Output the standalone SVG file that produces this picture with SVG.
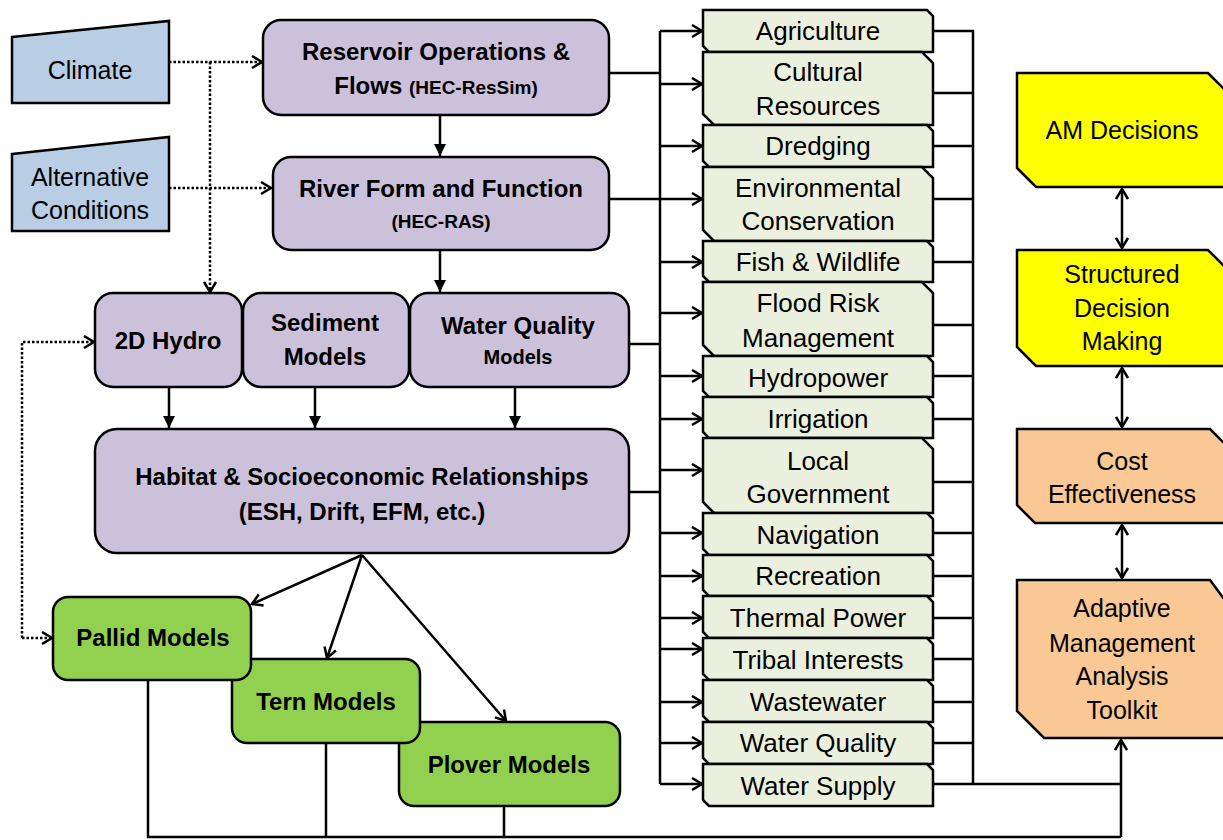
<svg xmlns="http://www.w3.org/2000/svg" width="1223" height="840" viewBox="0 0 1223 840">
<style>
.t{font-family:"Liberation Sans",Arial,sans-serif;font-size:25px;fill:#000;text-anchor:middle}
.l{font-size:26px}
.b{font-family:"Liberation Sans",Arial,sans-serif;font-size:24px;font-weight:bold;fill:#000;text-anchor:middle}
.s{font-size:19px}
.purple{fill:#CCC1DA;stroke:#000;stroke-width:2.5}
.green{fill:#92D050;stroke:#000;stroke-width:2.5}
.blue{fill:#B9CDE5;stroke:#000;stroke-width:2.5}
.list{fill:#EBF0DE;stroke:#000;stroke-width:2.5}
.yellow{fill:#FFFF00;stroke:#000;stroke-width:2.5}
.peach{fill:#FAC894;stroke:#000;stroke-width:2.5}
.c{fill:none;stroke:#000;stroke-width:2.5}
.dot{fill:none;stroke:#000;stroke-width:2.5;stroke-dasharray:2.5 2}
</style>
<defs>
<marker id="open" markerUnits="userSpaceOnUse" markerWidth="14" markerHeight="15" viewBox="0 0 14 15" refX="12" refY="7.5" orient="auto-start-reverse">
<path d="M2,1.5 L12,7.5 L2,13.5" fill="none" stroke="#000" stroke-width="2.5"/>
</marker>
<marker id="tri" markerUnits="userSpaceOnUse" markerWidth="12" markerHeight="14" viewBox="0 0 12 14" refX="12" refY="7" orient="auto">
<path d="M0,1 L12,7 L0,13 Z" fill="#000"/>
</marker>
</defs>

<g id="connectors">
<path class="dot" d="M169,62 H262" marker-end="url(#open)"/>
<path class="dot" d="M210,62 V292" marker-end="url(#open)"/>
<path class="dot" d="M169,188 H271" marker-end="url(#open)"/>
<path class="dot" d="M22,638 V342 H94" marker-end="url(#open)"/>
<path class="dot" d="M22,638 H52" marker-end="url(#open)"/>
<path class="c" d="M440,115 V156" marker-end="url(#tri)"/>
<path class="c" d="M440,250 V292" marker-end="url(#tri)"/>
<path class="c" d="M169,387 V428" marker-end="url(#tri)"/>
<path class="c" d="M315,387 V428" marker-end="url(#tri)"/>
<path class="c" d="M515,387 V428" marker-end="url(#tri)"/>
<path class="c" d="M362,555 L252,604" marker-end="url(#open)"/>
<path class="c" d="M362,555 L327,658" marker-end="url(#open)"/>
<path class="c" d="M362,555 L506,721" marker-end="url(#open)"/>
<path class="c" d="M609,73 H660 M609,199 H660 M629,344 H660 M629,492 H660"/>
<path class="c" d="M660,31 V784"/>
<g marker-end="url(#open)">
<path class="c" d="M660,31 H702"/>
<path class="c" d="M660,84 H702"/>
<path class="c" d="M660,146 H702"/>
<path class="c" d="M660,199 H702"/>
<path class="c" d="M660,262 H702"/>
<path class="c" d="M660,313 H702"/>
<path class="c" d="M660,376 H702"/>
<path class="c" d="M660,419 H702"/>
<path class="c" d="M660,470 H702"/>
<path class="c" d="M660,533 H702"/>
<path class="c" d="M660,576 H702"/>
<path class="c" d="M660,618 H702"/>
<path class="c" d="M660,649 H702"/>
<path class="c" d="M660,702 H702"/>
<path class="c" d="M660,743 H702"/>
<path class="c" d="M660,784 H702"/>
</g>
<path class="c" d="M933,31 H973 V784 M933,93 H973 M933,146 H973 M933,199 H973 M933,262 H973 M933,325 H973 M933,376 H973 M933,419 H973 M933,482 H973 M933,533 H973 M933,576 H973 M933,618 H973 M933,659 H973 M933,702 H973 M933,743 H973 M933,784 H1121"/>
<path class="c" d="M148,680 V837 H1121 M326,743 V837 M504,806 V837"/>
<path class="c" d="M1121,837 V740" marker-end="url(#open)"/>
<path class="c" d="M1122,189 V248" marker-start="url(#open)" marker-end="url(#open)"/>
<path class="c" d="M1122,368 V427" marker-start="url(#open)" marker-end="url(#open)"/>
<path class="c" d="M1122,525 V578" marker-start="url(#open)" marker-end="url(#open)"/>
</g>

<g id="climate">
<polygon class="blue" points="12,37 169,21 169,103 12,103"/>
<text class="t" x="90" y="79">Climate</text>
</g>
<g id="alternative-conditions">
<polygon class="blue" points="12,154 169,137 169,231 12,231"/>
<text class="t" x="90" y="186">Alternative</text>
<text class="t" x="90" y="219">Conditions</text>
</g>

<g id="reservoir">
<rect class="purple" x="263" y="20" width="346" height="95" rx="18"/>
<text class="b" x="436" y="60">Reservoir Operations &amp;</text>
<text class="b" x="436" y="94">Flows <tspan class="s">(HEC-ResSim)</tspan></text>
</g>
<g id="river">
<rect class="purple" x="273" y="157" width="336" height="93" rx="18"/>
<text class="b" x="441" y="197">River Form and Function</text>
<text class="b s" x="441" y="228">(HEC-RAS)</text>
</g>
<g id="hydro2d">
<rect class="purple" x="95" y="293" width="147" height="94" rx="18"/>
<text class="b" x="168" y="349">2D Hydro</text>
</g>
<g id="sediment">
<rect class="purple" x="243" y="293" width="166" height="94" rx="18"/>
<text class="b" x="325" y="331">Sediment</text>
<text class="b" x="325" y="365">Models</text>
</g>
<g id="water-quality-models">
<rect class="purple" x="410" y="293" width="219" height="94" rx="18"/>
<text class="b" x="518" y="334">Water Quality</text>
<text class="b" x="518" y="364" style="font-size:20px">Models</text>
</g>
<g id="habitat">
<rect class="purple" x="95" y="429" width="534" height="124" rx="22"/>
<text class="b" x="362" y="485">Habitat &amp; Socioeconomic Relationships</text>
<text class="b" x="362" y="520">(ESH, Drift, EFM, etc.)</text>
</g>

<g id="plover">
<rect class="green" x="399" y="722" width="221" height="84" rx="15"/>
<text class="b" x="509" y="773">Plover Models</text>
</g>
<g id="tern">
<rect class="green" x="232" y="659" width="188" height="84" rx="15"/>
<text class="b" x="326" y="710">Tern Models</text>
</g>
<g id="pallid">
<rect class="green" x="53" y="597" width="198" height="83" rx="15"/>
<text class="b" x="153" y="646">Pallid Models</text>
</g>

<g id="agriculture"><path class="list" d="M703,10 H927 L933,16 V52 H709 L703,46 Z"/><text class="t l" x="818" y="40">Agriculture</text></g>
<g id="cultural-resources"><path class="list" d="M703,52 H922 L933,63 V125 H714 L703,114 Z"/><text class="t l" x="818" y="81">Cultural</text><text class="t l" x="818" y="115">Resources</text></g>
<g id="dredging"><path class="list" d="M703,125 H927 L933,131 V167 H709 L703,161 Z"/><text class="t l" x="818" y="155">Dredging</text></g>
<g id="environmental-conservation"><path class="list" d="M703,167 H922 L933,178 V241 H714 L703,230 Z"/><text class="t l" x="818" y="197">Environmental</text><text class="t l" x="818" y="230">Conservation</text></g>
<g id="fish-wildlife"><path class="list" d="M703,241 H927 L933,247 V282 H709 L703,276 Z"/><text class="t l" x="818" y="271">Fish &amp; Wildlife</text></g>
<g id="flood-risk"><path class="list" d="M703,282 H922 L933,293 V356 H714 L703,345 Z"/><text class="t l" x="818" y="312">Flood Risk</text><text class="t l" x="818" y="347">Management</text></g>
<g id="hydropower"><path class="list" d="M703,356 H927 L933,362 V397 H709 L703,391 Z"/><text class="t l" x="818" y="387">Hydropower</text></g>
<g id="irrigation"><path class="list" d="M703,397 H927 L933,403 V438 H709 L703,432 Z"/><text class="t l" x="818" y="428">Irrigation</text></g>
<g id="local-government"><path class="list" d="M703,438 H922 L933,449 V513 H714 L703,502 Z"/><text class="t l" x="818" y="470">Local</text><text class="t l" x="818" y="503">Government</text></g>
<g id="navigation"><path class="list" d="M703,513 H927 L933,519 V555 H709 L703,549 Z"/><text class="t l" x="818" y="544">Navigation</text></g>
<g id="recreation"><path class="list" d="M703,555 H927 L933,561 V596 H709 L703,590 Z"/><text class="t l" x="818" y="585">Recreation</text></g>
<g id="thermal-power"><path class="list" d="M703,596 H927 L933,602 V638 H709 L703,632 Z"/><text class="t l" x="818" y="627">Thermal Power</text></g>
<g id="tribal-interests"><path class="list" d="M703,638 H927 L933,644 V680 H709 L703,674 Z"/><text class="t l" x="818" y="669">Tribal Interests</text></g>
<g id="wastewater"><path class="list" d="M703,680 H927 L933,686 V722 H709 L703,716 Z"/><text class="t l" x="818" y="711">Wastewater</text></g>
<g id="water-quality"><path class="list" d="M703,722 H927 L933,728 V764 H709 L703,758 Z"/><text class="t l" x="818" y="752">Water Quality</text></g>
<g id="water-supply"><path class="list" d="M703,764 H927 L933,770 V806 H709 L703,800 Z"/><text class="t l" x="818" y="795">Water Supply</text></g>

<g id="am-decisions"><path class="yellow" d="M1017,73 H1208 L1228,93 V187 H1036 L1017,168 Z"/><text class="t" x="1122" y="139">AM Decisions</text></g>
<g id="structured-decision-making"><path class="yellow" d="M1017,250 H1208 L1228,270 V366 H1036 L1017,347 Z"/><text class="t" x="1122" y="283">Structured</text><text class="t" x="1122" y="317">Decision</text><text class="t" x="1122" y="350">Making</text></g>
<g id="cost-effectiveness"><path class="peach" d="M1017,429 H1210 L1228,447 V523 H1035 L1017,505 Z"/><text class="t" x="1122" y="470">Cost</text><text class="t" x="1122" y="503">Effectiveness</text></g>
<g id="amat"><path class="peach" d="M1017,580 H1210 L1230,607 V738 H1044 L1017,711 Z"/><text class="t" x="1122" y="617">Adaptive</text><text class="t" x="1122" y="652">Management</text><text class="t" x="1122" y="685">Analysis</text><text class="t" x="1122" y="719">Toolkit</text></g>
</svg>
